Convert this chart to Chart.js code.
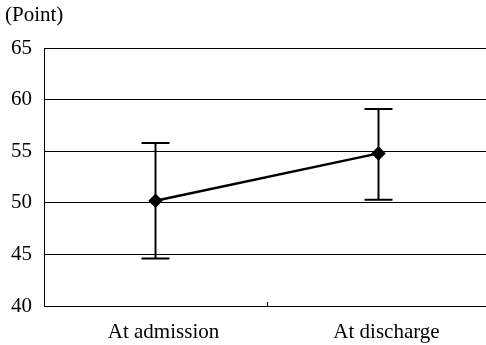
<!DOCTYPE html>
<html lang="en">
<head>
    <meta charset="UTF-8">
    <title>Point</title>
    <script src="https://cdn.jsdelivr.net/npm/chart.js@4"></script>
    <style>
        html, body { margin: 0; padding: 0; background: #fff; overflow: hidden; }
        .chart-container { position: relative; width: 498px; height: 345px; }
    </style>
</head>
<body>
    <div class="chart-container">
        <canvas id="grafico"></canvas>
    </div>

    <script>
        // Datos
        const categorias = ['At admission', 'At discharge'];
        const medias = [50.2, 54.8];
        const limiteSuperior = [55.8, 59.1];
        const limiteInferior = [44.6, 50.3];
        const ticksY = [40, 45, 50, 55, 60, 65];

        const fuente = "'Liberation Serif', 'Times New Roman', serif";

        // Barras de error y marca central del eje x, con las escalas del grafico
        const barrasError = {
            id: 'barrasError',
            afterDatasetsDraw(chart) {
                const ctx = chart.ctx;
                const x = chart.scales.x;
                const y = chart.scales.y;
                ctx.save();
                ctx.strokeStyle = '#000';
                ctx.lineWidth = 2;
                categorias.forEach((c, i) => {
                    const px = x.getPixelForValue(i);
                    const top = y.getPixelForValue(limiteSuperior[i]);
                    const bot = y.getPixelForValue(limiteInferior[i]);
                    ctx.beginPath();
                    ctx.moveTo(px, top); ctx.lineTo(px, bot);
                    ctx.moveTo(px - 14, top); ctx.lineTo(px + 14, top);
                    ctx.moveTo(px - 14, bot); ctx.lineTo(px + 14, bot);
                    ctx.stroke();
                });
                // pequeña marca entre categorias
                const mid = Math.round((x.getPixelForValue(0) + x.getPixelForValue(1)) / 2) + 0.5;
                ctx.lineWidth = 1;
                ctx.beginPath();
                ctx.moveTo(mid, chart.chartArea.bottom);
                ctx.lineTo(mid, chart.chartArea.bottom - 4);
                ctx.stroke();
                ctx.restore();
            }
        };

        new Chart(document.getElementById('grafico'), {
            type: 'line',
            data: {
                labels: categorias,
                datasets: [{
                    data: medias,
                    borderColor: '#000',
                    backgroundColor: '#000',
                    borderWidth: 2.5,
                    pointStyle: 'rectRot',
                    pointRadius: 5.5,
                    tension: 0
                }]
            },
            options: {
                responsive: true,
                maintainAspectRatio: false,
                animation: false,
                layout: { padding: { left: 5, right: 0, top: 0, bottom: 0 } },
                plugins: {
                    legend: { display: false },
                    tooltip: { enabled: false },
                    title: {
                        display: true,
                        text: '(Point)',
                        align: 'start',
                        color: '#000',
                        font: { family: fuente, size: 21, weight: 'normal' },
                        padding: { top: 3, bottom: 20 }
                    }
                },
                scales: {
                    x: {
                        offset: true,
                        afterFit: (axis) => { axis.height = 39; },
                        grid: { display: false, drawTicks: false },
                        border: { color: '#000', width: 1 },
                        ticks: { color: '#000', padding: 14, labelOffset: 8, font: { family: fuente, size: 21 } }
                    },
                    y: {
                        min: 40,
                        max: 65,
                        afterBuildTicks: (axis) => { axis.ticks = ticksY.map(v => ({ value: v })); },
                        afterFit: (axis) => { axis.width = 39; },
                        grid: { color: '#000', lineWidth: 1, drawTicks: false },
                        border: { color: '#000', width: 1 },
                        ticks: { color: '#000', padding: 12, font: { family: fuente, size: 21 } }
                    }
                }
            },
            plugins: [barrasError]
        });
    </script>
</body>
</html>
